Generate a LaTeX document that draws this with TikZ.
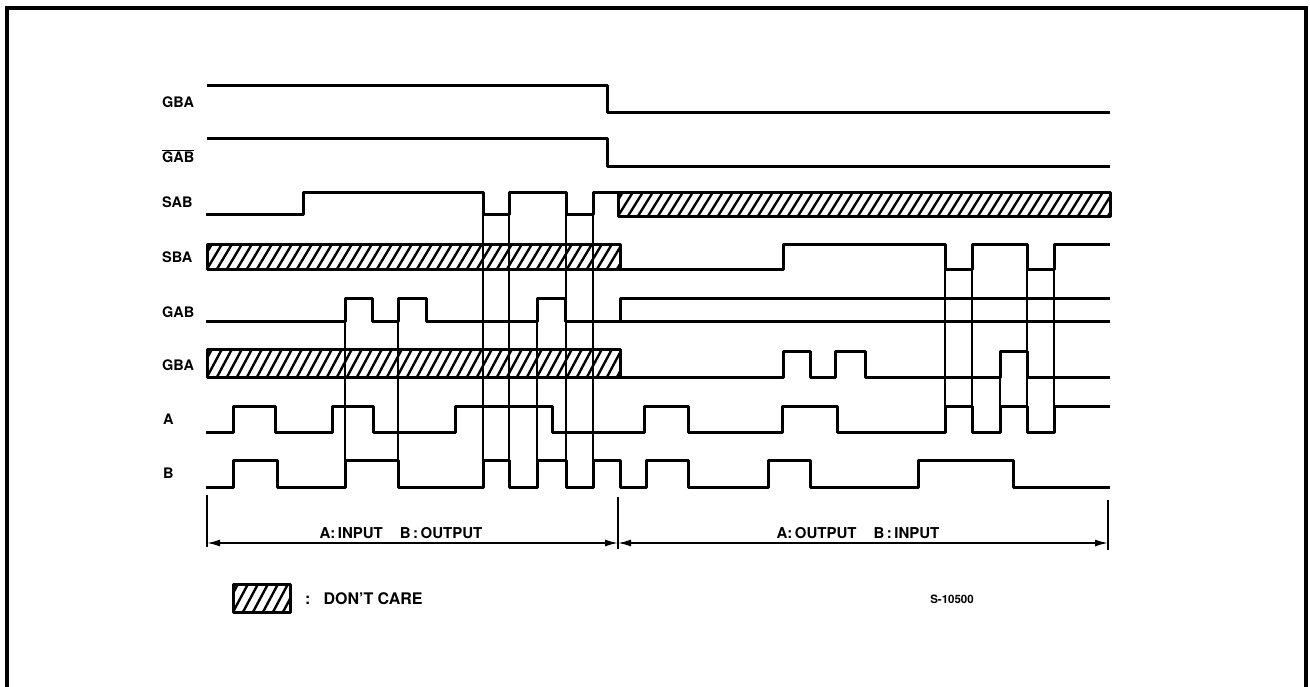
\documentclass[tikz,border=0pt]{standalone}
\usepackage{fontspec}
\setmainfont{TeX Gyre Heros}
\usepackage{tikz}
\usetikzlibrary{arrows.meta,calc}

\newcommand{\dontcare}[4]{%
	\begin{scope}
	\clip (#1,#2) rectangle (#3,#4);
	\foreach \hx in {-30,-20,...,510}
		\draw[line width=2.4pt] (#1+\hx,#4) -- ++(15,#2-#4);
	\end{scope}
	\draw[signal] (#1,#2) rectangle (#3,#4);
}

\begin{document}
\begin{tikzpicture}[x=1pt,y=-1pt,
	signal/.style={line width=3pt, line join=round},
	guide/.style={line width=1.6pt},
	lbl/.style={anchor=west, inner sep=0pt, font=\fontsize{14.5}{16}\selectfont\bfseries},
	dimtip/.tip={Latex[length=13pt,width=7pt]}]
	
	\useasboundingbox (0,0) rectangle (1310,686);
	\draw[line width=3.2pt] (7,690) -- (7,8) -- (1306,8) -- (1306,690);
	
	\node[lbl] (gba1) at (162,102) {GBA};
	\node[lbl] (gab1) at (162,156) {$\overline{\mbox{GAB}}$};
	\node[lbl] (sab) at (162,202) {SAB};
	\node[lbl] (sba) at (162,257) {SBA};
	\node[lbl] (gab) at (162,312) {GAB};
	\node[lbl] (gba) at (162,365) {GBA};
	\node[lbl] (a) at (163,419) {A};
	\node[lbl] (b) at (163,473) {B};
	
	\draw[signal] (207,85) -- (607,85) -- (607,112) -- (1110,112);
	\draw[signal] (207,138) -- (607,138) -- (607,166) -- (1110,166);
	
	\draw[signal] (206,214) -- (303,214) -- (303,192) -- (483,192) -- (483,214) -- (509,214) -- (509,192) -- (566,192) -- (566,214) -- (593,214) -- (593,192) -- (618,192);
	\dontcare{618}{192}{1110}{216}
	
	\dontcare{207}{244}{620}{269}
	\draw[signal] (620,269) -- (783,269) -- (783,244) -- (945,244) -- (945,269) -- (972,269) -- (972,244) -- (1027,244) -- (1027,269) -- (1054,269) -- (1054,244) -- (1110,244);
	
	\draw[signal] (206,321) -- (345,321) -- (345,298) -- (372,298) -- (372,321) -- (398,321) -- (398,298) -- (426,298) -- (426,321) -- (537,321) -- (537,298) -- (565,298) -- (565,321) -- (1110,321);
	\draw[signal] (620,321) -- (620,298) -- (1110,298);
	
	\dontcare{207}{349}{620}{377}
	\draw[signal] (620,377) -- (783,377) -- (783,351) -- (810,351) -- (810,377) -- (835,377) -- (835,351) -- (865,351) -- (865,377) -- (1000,377) -- (1000,351) -- (1027,351) -- (1027,377) -- (1110,377);
	
	\draw[signal] (206,432) -- (233,432) -- (233,406) -- (275,406) -- (275,432) -- (332,432) -- (332,406) -- (373,406) -- (373,432) -- (455,432) -- (455,406) -- (552,406) -- (552,432) -- (644,432) -- (644,406) -- (688,406) -- (688,432) -- (782,432) -- (782,406) -- (837,406) -- (837,432) -- (945,432) -- (945,406) -- (972,406) -- (972,432) -- (1000,432) -- (1000,406) -- (1027,406) -- (1027,432) -- (1054,432) -- (1054,406) -- (1110,406);
	
	\draw[signal] (206,487) -- (233,487) -- (233,460) -- (277,460) -- (277,487) -- (345,487) -- (345,460) -- (398,460) -- (398,487) -- (483,487) -- (483,460) -- (509,460) -- (509,487) -- (537,487) -- (537,460) -- (566,460) -- (566,487) -- (593,487) -- (593,460) -- (620,460) -- (620,487) -- (646,487) -- (646,460) -- (688,460) -- (688,487) -- (768,487) -- (768,460) -- (810,460) -- (810,487) -- (918,487) -- (918,460) -- (1013,460) -- (1013,487) -- (1110,487);
	
	\foreach \gx in {345,398,537}
		\draw[guide] (\gx,298) -- (\gx,460);
	\foreach \gx in {483,509,566,593}
		\draw[guide] (\gx,214) -- (\gx,460);
	\foreach \gx in {945,972,1027,1054}
		\draw[guide] (\gx,269) -- (\gx,406);
	\draw[guide] (1000,351) -- (1000,406);
	
	\coordinate (d1) at (207,543);
	\coordinate (d2) at (618,543);
	\coordinate (d3) at (1108,543);
	\draw[guide] (207,495) -- (207,547);
	\draw[guide] (618,497) -- (618,549);
	\draw[guide] (1108,500) -- (1108,550);
	\draw[guide, dimtip-dimtip] (d1) -- (d2);
	\draw[guide, dimtip-dimtip] (d2) -- (d3);
	
	\node[font=\fontsize{15}{17}\selectfont\bfseries] (inab) at (401,533) {A:\,INPUT\hspace{17pt}B\,:\,OUTPUT};
	\node[font=\fontsize{15}{17}\selectfont\bfseries] (outab) at (858,533) {A:\,OUTPUT\hspace{17pt}B\,:\,INPUT};
	
	\dontcare{233}{584}{290}{612}
	\node[anchor=west, inner sep=0pt, font=\fontsize{16}{18}\selectfont\bfseries] (care) at (305,599) {:\hspace{13pt}DON'T CARE};
	\node[inner sep=0pt, font=\fontsize{11.5}{13}\selectfont\bfseries] (fig) at (952,599) {S-10500};
	
\end{tikzpicture}
\end{document}
